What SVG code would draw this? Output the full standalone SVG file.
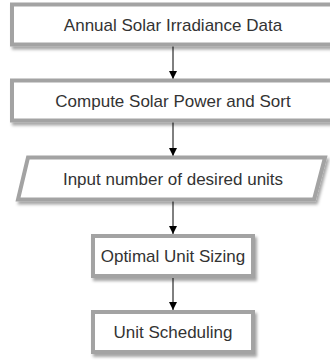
<svg xmlns="http://www.w3.org/2000/svg" width="330" height="360" viewBox="0 0 330 360">
<defs>
<filter id="sh" x="-10%" y="-20%" width="130%" height="160%">
<feDropShadow dx="2" dy="3" stdDeviation="1.5" flood-color="#000" flood-opacity="0.35"/>
</filter>
<marker id="ah" viewBox="0 0 8 10" refX="8" refY="5" markerWidth="8" markerHeight="10" markerUnits="userSpaceOnUse" orient="auto">
<path d="M0,1 L8,5 L0,9 Z" fill="#000"/>
</marker>
</defs>
<style>
.box{fill:#fff;stroke:#a3a3a3;stroke-width:4;filter:url(#sh)}
.t{font-family:"Liberation Sans",Arial,sans-serif;font-size:17px;fill:#333;text-anchor:middle}
.c{stroke:#000;stroke-width:1;fill:none;marker-end:url(#ah)}
</style>
<rect width="330" height="360" fill="#fff"/>
<g id="connectors">
<line class="c" x1="173" y1="46" x2="173" y2="79"/>
<line class="c" x1="173" y1="122" x2="173" y2="156"/>
<line class="c" x1="173" y1="201" x2="173" y2="234"/>
<line class="c" x1="173" y1="278" x2="173" y2="310"/>
</g>
<g id="n1">
<rect class="box" x="12" y="4.5" width="325" height="40"/>
<text class="t" x="173" y="31">Annual Solar Irradiance Data</text>
</g>
<g id="n2">
<rect class="box" x="12" y="80.5" width="325" height="40"/>
<text class="t" x="173" y="107">Compute Solar Power and Sort</text>
</g>
<g id="n3">
<polygon class="box" points="28,157.5 325,157.5 314,199.5 18,199.5"/>
<text class="t" x="173" y="185">Input number of desired units</text>
</g>
<g id="n4">
<rect class="box" x="93" y="236" width="160" height="40"/>
<text class="t" x="173" y="262">Optimal Unit Sizing</text>
</g>
<g id="n5">
<rect class="box" x="93" y="312" width="160" height="40"/>
<text class="t" x="173" y="338">Unit Scheduling</text>
</g>
</svg>
